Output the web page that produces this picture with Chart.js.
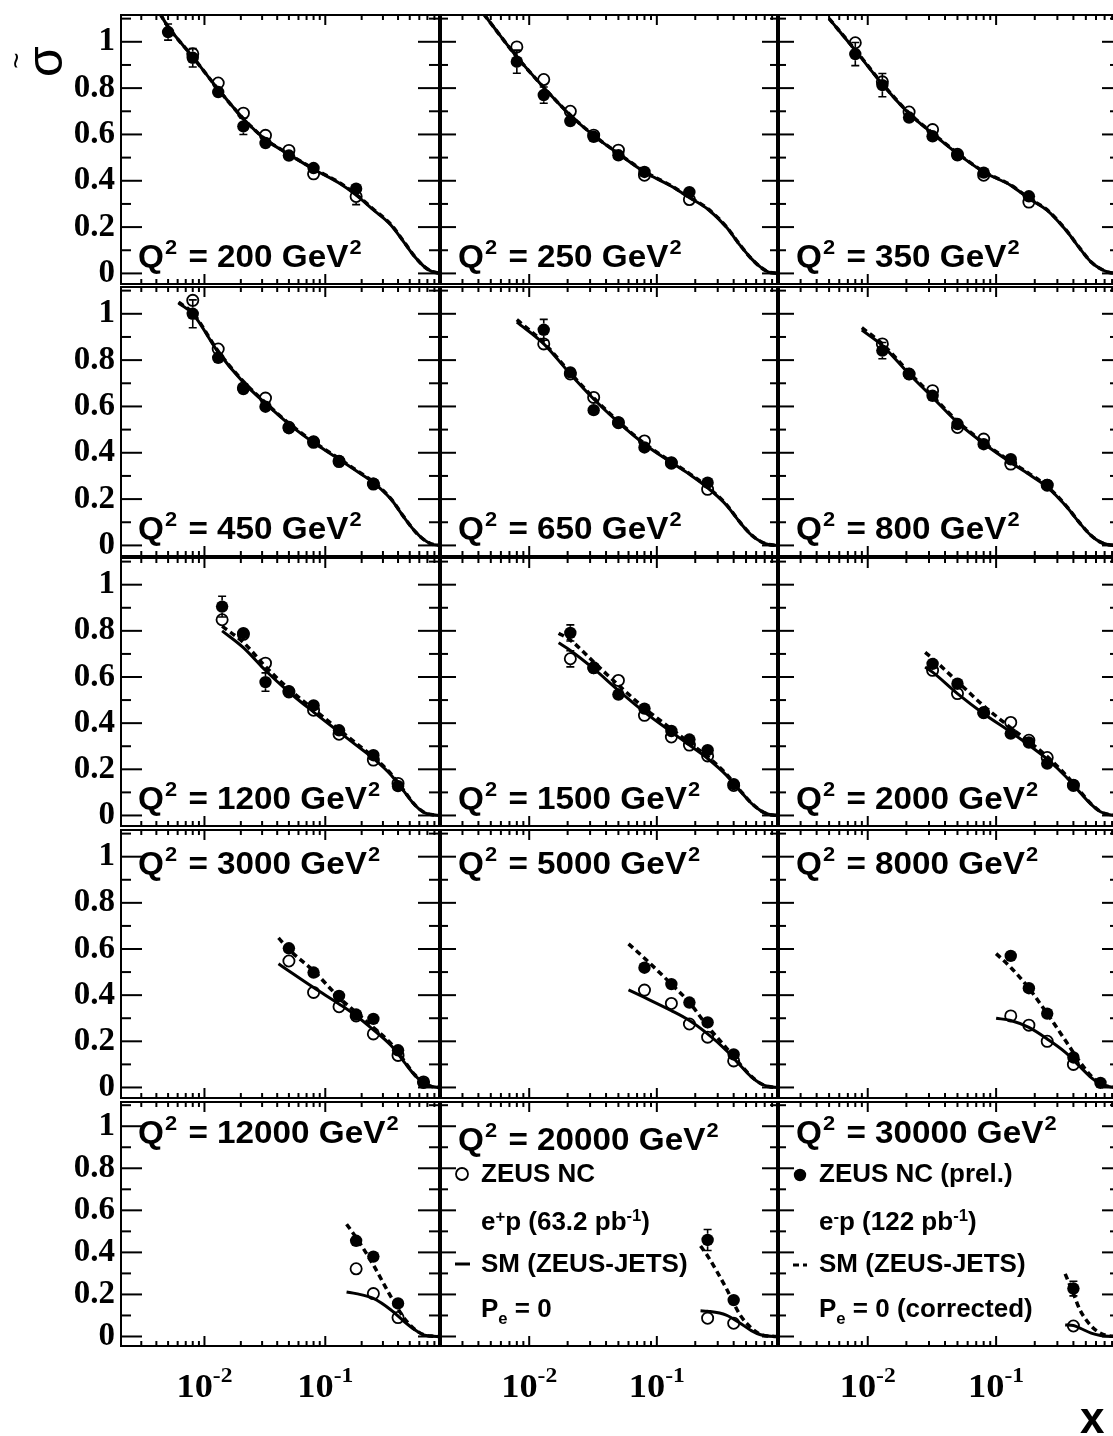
<!DOCTYPE html>
<html>
<head>
<meta charset="utf-8">
<title>ZEUS NC reduced cross sections</title>
<script src="https://cdn.jsdelivr.net/npm/chart.js@4.4.1/dist/chart.umd.min.js"></script>
<style>
  html, body { margin: 0; padding: 0; background: #fff; overflow: hidden; }
  #page { position: relative; width: 1113px; height: 1436px; overflow: hidden; background: #fff; }
  #page canvas { position: absolute; }
</style>
</head>
<body>
<div id="page"></div>
<script>
// ---------------------------------------------------------------------------
// Reduced cross sections vs x, one panel per Q^2 bin (GeV^2)
// ---------------------------------------------------------------------------
const q2Values = [200, 250, 350, 450, 650, 800, 1200, 1500, 2000, 3000, 5000, 8000, 12000, 20000, 30000];

// x of the measured points in every panel
const pointX = [
  [0.005, 0.008, 0.013, 0.021, 0.032, 0.05, 0.08, 0.18],
  [0.008, 0.013, 0.021, 0.032, 0.05, 0.08, 0.18],
  [0.008, 0.013, 0.021, 0.032, 0.05, 0.08, 0.18],
  [0.008, 0.013, 0.021, 0.032, 0.05, 0.08, 0.13, 0.25],
  [0.013, 0.021, 0.032, 0.05, 0.08, 0.13, 0.25],
  [0.013, 0.021, 0.032, 0.05, 0.08, 0.13, 0.25],
  [0.014, 0.021, 0.032, 0.05, 0.08, 0.13, 0.25, 0.4],
  [0.021, 0.032, 0.05, 0.08, 0.13, 0.18, 0.25, 0.4],
  [0.032, 0.05, 0.08, 0.13, 0.18, 0.25, 0.4],
  [0.05, 0.08, 0.13, 0.18, 0.25, 0.4, 0.65],
  [0.08, 0.13, 0.18, 0.25, 0.4],
  [0.13, 0.18, 0.25, 0.4, 0.65],
  [0.18, 0.25, 0.4],
  [0.25, 0.4],
  [0.4]
];

// e+p measurement (open circles)
const sigmaEplus = [
  [null, 0.948, 0.822, 0.692, 0.596, 0.531, 0.430, 0.332],
  [0.978, 0.837, 0.700, 0.597, 0.532, 0.424, 0.319],
  [0.996, 0.827, 0.697, 0.621, 0.514, 0.424, 0.308],
  [1.058, 0.848, 0.680, 0.636, 0.510, 0.445, 0.362, 0.265],
  [0.870, 0.740, 0.639, 0.530, 0.451, 0.355, 0.242],
  [0.870, 0.740, 0.668, 0.509, 0.459, 0.351, 0.260],
  [0.848, 0.785, 0.660, 0.535, 0.456, 0.352, 0.240, 0.139],
  [0.679, 0.640, 0.585, 0.434, 0.340, 0.305, 0.258, 0.130],
  [0.629, 0.528, 0.445, 0.403, 0.326, 0.251, 0.130],
  [0.548, 0.412, 0.350, 0.310, 0.232, 0.139, 0.024],
  [0.422, 0.364, 0.275, 0.218, 0.115],
  [0.310, 0.270, 0.200, 0.100, null],
  [0.322, 0.204, 0.090],
  [0.087, 0.063],
  [0.050]
];
const errEplus = [
  [null, 0.02, 0.015, 0.015, 0.015, 0.012, 0.012, 0.035],
  [0.02, 0.018, 0.015, 0.012, 0.012, 0.012, 0.02],
  [0.02, 0.02, 0.015, 0.015, 0.012, 0.012, 0.02],
  [0.025, 0.02, 0.015, 0.015, 0.012, 0.012, 0.012, 0.015],
  [0.025, 0.02, 0.02, 0.015, 0.015, 0.012, 0.015],
  [0.025, 0.02, 0.02, 0.015, 0.015, 0.012, 0.015],
  [0.03, 0.02, 0.02, 0.015, 0.015, 0.012, 0.015, 0.012],
  [0.035, 0.02, 0.02, 0.015, 0.015, 0.015, 0.015, 0.012],
  [0.02, 0.02, 0.015, 0.015, 0.015, 0.015, 0.012],
  [0.02, 0.018, 0.015, 0.015, 0.015, 0.012, 0.006],
  [0.02, 0.02, 0.018, 0.015, 0.012],
  [0.025, 0.02, 0.02, 0.015, null],
  [0.035, 0.03, 0.02],
  [0.02, 0.015],
  [0.015]
];

// e-p measurement (filled circles)
const sigmaEminus = [
  [1.042, 0.931, 0.783, 0.635, 0.563, 0.509, 0.455, 0.366],
  [0.914, 0.770, 0.658, 0.590, 0.510, 0.438, 0.351],
  [0.947, 0.813, 0.673, 0.592, 0.510, 0.435, 0.333],
  [1.000, 0.810, 0.675, 0.599, 0.506, 0.449, 0.365, 0.267],
  [0.931, 0.747, 0.584, 0.531, 0.423, 0.358, 0.271],
  [0.841, 0.740, 0.646, 0.524, 0.437, 0.372, 0.261],
  [0.905, 0.790, 0.578, 0.539, 0.477, 0.369, 0.261, 0.127],
  [0.791, 0.639, 0.524, 0.463, 0.366, 0.329, 0.283, 0.136],
  [0.657, 0.571, 0.446, 0.355, 0.316, 0.225, 0.132],
  [0.603, 0.498, 0.397, 0.316, 0.297, 0.161, 0.020],
  [0.519, 0.448, 0.368, 0.282, 0.143],
  [0.570, 0.430, 0.320, 0.130, 0.020],
  [0.455, 0.380, 0.157],
  [0.459, 0.173],
  [0.228]
];
const errEminus = [
  [0.035, 0.04, 0.03, 0.035, 0.03, 0.02, 0.02, 0.025],
  [0.05, 0.035, 0.025, 0.02, 0.02, 0.02, 0.025],
  [0.05, 0.05, 0.03, 0.025, 0.02, 0.02, 0.02],
  [0.06, 0.03, 0.03, 0.025, 0.02, 0.02, 0.02, 0.02],
  [0.045, 0.03, 0.03, 0.02, 0.02, 0.02, 0.02],
  [0.035, 0.03, 0.025, 0.02, 0.02, 0.02, 0.02],
  [0.045, 0.025, 0.04, 0.02, 0.02, 0.015, 0.015, 0.015],
  [0.035, 0.02, 0.02, 0.02, 0.02, 0.02, 0.02, 0.015],
  [0.025, 0.025, 0.02, 0.02, 0.02, 0.02, 0.015],
  [0.02, 0.02, 0.02, 0.02, 0.02, 0.015, 0.008],
  [0.025, 0.02, 0.02, 0.02, 0.015],
  [0.025, 0.025, 0.02, 0.02, 0.01],
  [0.025, 0.03, 0.025],
  [0.05, 0.025],
  [0.035]
];

// Standard Model expectation (ZEUS-JETS), sampled along x
const smX = [
  [0.0043, 0.005, 0.008, 0.013, 0.021, 0.032, 0.05, 0.08, 0.13, 0.18, 0.25, 0.35, 0.45, 0.55, 0.65, 0.75, 0.89],
  [0.0044, 0.005, 0.008, 0.013, 0.021, 0.032, 0.05, 0.08, 0.13, 0.18, 0.25, 0.35, 0.45, 0.55, 0.65, 0.75, 0.89],
  [0.005, 0.008, 0.013, 0.021, 0.032, 0.05, 0.08, 0.13, 0.18, 0.25, 0.35, 0.45, 0.55, 0.65, 0.75, 0.89],
  [0.0061, 0.008, 0.013, 0.021, 0.032, 0.05, 0.08, 0.13, 0.18, 0.25, 0.35, 0.45, 0.55, 0.65, 0.75, 0.89],
  [0.008, 0.013, 0.021, 0.032, 0.05, 0.08, 0.13, 0.18, 0.25, 0.35, 0.45, 0.55, 0.65, 0.75, 0.89],
  [0.009, 0.013, 0.021, 0.032, 0.05, 0.08, 0.13, 0.18, 0.25, 0.35, 0.45, 0.55, 0.65, 0.75, 0.89],
  [0.014, 0.021, 0.032, 0.05, 0.08, 0.13, 0.18, 0.25, 0.35, 0.45, 0.55, 0.65, 0.75, 0.89],
  [0.017, 0.021, 0.032, 0.05, 0.08, 0.13, 0.18, 0.25, 0.35, 0.45, 0.55, 0.65, 0.75, 0.89],
  [0.028, 0.032, 0.05, 0.08, 0.13, 0.18, 0.25, 0.35, 0.45, 0.55, 0.65, 0.75, 0.89],
  [0.041, 0.05, 0.08, 0.13, 0.18, 0.25, 0.35, 0.45, 0.55, 0.65, 0.75, 0.89],
  [0.06, 0.08, 0.13, 0.18, 0.25, 0.35, 0.45, 0.55, 0.65, 0.75, 0.89],
  [0.10, 0.13, 0.18, 0.25, 0.35, 0.45, 0.55, 0.65, 0.75, 0.89],
  [0.15, 0.18, 0.25, 0.35, 0.45, 0.55, 0.65, 0.75, 0.89],
  [0.22, 0.25, 0.35, 0.45, 0.55, 0.65, 0.75, 0.89],
  [0.345, 0.4, 0.45, 0.55, 0.65, 0.75, 0.89]
];
const smEplus = [
  [1.12, 1.065, 0.935, 0.795, 0.668, 0.578, 0.514, 0.450, 0.390, 0.338, 0.274, 0.208, 0.133, 0.072, 0.032, 0.010, 0.0],
  [1.12, 1.080, 0.935, 0.803, 0.683, 0.595, 0.517, 0.438, 0.376, 0.327, 0.278, 0.200, 0.121, 0.064, 0.027, 0.006, 0.0],
  [1.10, 0.963, 0.817, 0.690, 0.604, 0.517, 0.438, 0.380, 0.323, 0.272, 0.186, 0.107, 0.049, 0.020, 0.005, 0.0],
  [1.046, 1.000, 0.834, 0.704, 0.613, 0.524, 0.444, 0.372, 0.322, 0.271, 0.199, 0.120, 0.062, 0.026, 0.007, 0.0],
  [0.964, 0.870, 0.740, 0.632, 0.531, 0.437, 0.358, 0.307, 0.249, 0.175, 0.098, 0.045, 0.017, 0.004, 0.0],
  [0.930, 0.863, 0.740, 0.639, 0.531, 0.440, 0.358, 0.307, 0.252, 0.170, 0.095, 0.042, 0.014, 0.003, 0.0],
  [0.800, 0.727, 0.628, 0.535, 0.448, 0.362, 0.305, 0.247, 0.175, 0.103, 0.045, 0.014, 0.004, 0.0],
  [0.748, 0.715, 0.636, 0.542, 0.448, 0.362, 0.305, 0.247, 0.175, 0.106, 0.053, 0.021, 0.005, 0.0],
  [0.643, 0.621, 0.528, 0.441, 0.362, 0.305, 0.244, 0.168, 0.100, 0.048, 0.016, 0.004, 0.0],
  [0.536, 0.505, 0.433, 0.362, 0.311, 0.250, 0.182, 0.110, 0.053, 0.020, 0.005, 0.0],
  [0.423, 0.390, 0.333, 0.290, 0.232, 0.161, 0.096, 0.046, 0.017, 0.004, 0.0],
  [0.300, 0.290, 0.260, 0.210, 0.150, 0.090, 0.043, 0.015, 0.004, 0.0],
  [0.212, 0.204, 0.181, 0.126, 0.071, 0.032, 0.008, 0.002, 0.0],
  [0.122, 0.120, 0.102, 0.063, 0.028, 0.008, 0.002, 0.0],
  [0.055, 0.052, 0.040, 0.016, 0.005, 0.001, 0.0]
];
const smEminus = [
  [1.12, 1.065, 0.935, 0.795, 0.668, 0.579, 0.515, 0.452, 0.393, 0.341, 0.277, 0.211, 0.135, 0.073, 0.032, 0.010, 0.0],
  [1.12, 1.080, 0.935, 0.803, 0.684, 0.596, 0.518, 0.440, 0.378, 0.329, 0.280, 0.202, 0.122, 0.064, 0.027, 0.006, 0.0],
  [1.10, 0.965, 0.819, 0.692, 0.606, 0.519, 0.440, 0.382, 0.325, 0.274, 0.188, 0.108, 0.049, 0.020, 0.005, 0.0],
  [1.050, 1.004, 0.838, 0.708, 0.616, 0.527, 0.447, 0.375, 0.325, 0.274, 0.201, 0.121, 0.062, 0.026, 0.007, 0.0],
  [0.975, 0.875, 0.745, 0.637, 0.535, 0.440, 0.361, 0.310, 0.252, 0.177, 0.099, 0.046, 0.017, 0.004, 0.0],
  [0.940, 0.870, 0.747, 0.645, 0.536, 0.444, 0.362, 0.311, 0.255, 0.172, 0.096, 0.043, 0.014, 0.003, 0.0],
  [0.820, 0.750, 0.645, 0.548, 0.460, 0.372, 0.313, 0.253, 0.180, 0.106, 0.047, 0.015, 0.004, 0.0],
  [0.790, 0.760, 0.665, 0.565, 0.465, 0.375, 0.315, 0.255, 0.180, 0.108, 0.054, 0.021, 0.005, 0.0],
  [0.707, 0.680, 0.580, 0.475, 0.380, 0.320, 0.255, 0.175, 0.105, 0.050, 0.017, 0.004, 0.0],
  [0.648, 0.598, 0.505, 0.390, 0.325, 0.260, 0.190, 0.115, 0.055, 0.020, 0.005, 0.0],
  [0.622, 0.560, 0.448, 0.368, 0.265, 0.172, 0.100, 0.048, 0.017, 0.004, 0.0],
  [0.580, 0.520, 0.430, 0.320, 0.200, 0.110, 0.050, 0.017, 0.004, 0.0],
  [0.534, 0.471, 0.340, 0.188, 0.087, 0.034, 0.009, 0.002, 0.0],
  [0.430, 0.383, 0.229, 0.102, 0.040, 0.010, 0.002, 0.0],
  [0.298, 0.204, 0.126, 0.050, 0.015, 0.003, 0.0]
];

// axis ticks
const xMajorTicks = [0.01, 0.1];
const xTickExponents = ['-2', '-1'];
const xMinorTicks = [0.003, 0.004, 0.005, 0.006, 0.007, 0.008, 0.009,
                     0.02, 0.03, 0.04, 0.05, 0.06, 0.07, 0.08, 0.09,
                     0.2, 0.3, 0.4, 0.5, 0.6, 0.7, 0.8];
const yMajorTicks = [0, 0.2, 0.4, 0.6, 0.8, 1];
const yTickLabels = ['0', '0.2', '0.4', '0.6', '0.8', '1'];
const yMinorTicks = [0.1, 0.3, 0.5, 0.7, 0.9, 1.1];

// ---------------------------------------------------------------------------
// page layout: frame edges of the 3 x 5 grid
// ---------------------------------------------------------------------------
const COL_EDGES = [[120, 440], [440, 778], [778, 1118]];
const ROW_EDGES = [[14, 285], [286, 557], [557, 827], [829, 1099], [1101, 1347]];
const PAGE_H = 1436;
const SANS = "'Liberation Sans', Arial, Helvetica, sans-serif";
const SERIF = "'Liberation Serif', 'Times New Roman', serif";

// draw a run of text pieces (super/subscripts carry a vertical offset)
function drawRich(ctx, x, y, parts, stretch, align) {
  ctx.save();
  let total = 0;
  for (const p of parts) { ctx.font = p.font; total += ctx.measureText(p.t).width + (p.gap || 0); }
  const x0 = align === 'center' ? x - total * stretch / 2 : x;
  ctx.translate(x0, y);
  ctx.scale(stretch, 1);
  ctx.textAlign = 'left';
  ctx.textBaseline = 'alphabetic';
  ctx.fillStyle = '#000';
  let cx = 0;
  for (const p of parts) {
    ctx.font = p.font;
    ctx.fillText(p.t, cx, p.dy || 0);
    cx += ctx.measureText(p.t).width + (p.gap || 0);
  }
  ctx.restore();
}

function seg(ctx, x1, y1, x2, y2) {
  ctx.beginPath(); ctx.moveTo(x1, y1); ctx.lineTo(x2, y2); ctx.stroke();
}

function drawErrorBars(ctx, xs, ys, xv, yv, ev, r) {
  xv.forEach((x, k) => {
    const v = yv[k], e = ev[k];
    if (v === null || e === null || e === undefined) return;
    const px = xs.getPixelForValue(x);
    const py = ys.getPixelForValue(v);
    const hi = ys.getPixelForValue(v + e);
    const lo = ys.getPixelForValue(v - e);
    if (py - hi <= r + 1) return;
    ctx.beginPath();
    ctx.moveTo(px, hi); ctx.lineTo(px, py - r);
    ctx.moveTo(px, py + r); ctx.lineTo(px, lo);
    ctx.moveTo(px - 4, hi); ctx.lineTo(px + 4, hi);
    ctx.moveTo(px - 4, lo); ctx.lineTo(px + 4, lo);
    ctx.stroke();
  });
}

function drawLegend(ctx, ca, positron) {
  const F = `bold 25px ${SANS}`, S = `bold 16px ${SANS}`;
  const tx = ca.left + 41, sx = ca.left + 22;
  const base = [81, 129, 171, 216].map(d => ca.top + d);
  const st = 1.04;
  ctx.save();
  ctx.strokeStyle = '#000'; ctx.fillStyle = '#000';
  if (positron) {
    ctx.lineWidth = 1.8;
    ctx.beginPath(); ctx.arc(sx, base[0] - 8, 6, 0, Math.PI * 2); ctx.stroke();
    drawRich(ctx, tx, base[0], [{ t: 'ZEUS NC', font: F }], st);
    drawRich(ctx, tx, base[1], [{ t: 'e', font: F }, { t: '+', font: S, dy: -8 },
      { t: 'p (63.2 pb', font: F }, { t: '-1', font: S, dy: -9 }, { t: ')', font: F }], st);
    ctx.lineWidth = 3;
    seg(ctx, sx - 7, base[2] - 8, sx + 8, base[2] - 8);
    drawRich(ctx, tx, base[2], [{ t: 'SM (ZEUS-JETS)', font: F }], st);
    drawRich(ctx, tx, base[3], [{ t: 'P', font: F }, { t: 'e', font: S, dy: 7 }, { t: ' = 0', font: F }], st);
  } else {
    ctx.beginPath(); ctx.arc(sx, base[0] - 7, 6.2, 0, Math.PI * 2); ctx.fill();
    drawRich(ctx, tx, base[0], [{ t: 'ZEUS NC (prel.)', font: F }], st);
    drawRich(ctx, tx, base[1], [{ t: 'e', font: F }, { t: '-', font: S, dy: -8 },
      { t: 'p (122 pb', font: F }, { t: '-1', font: S, dy: -9 }, { t: ')', font: F }], st);
    ctx.lineWidth = 3;
    seg(ctx, sx - 7, base[2] - 7, sx - 1, base[2] - 7);
    seg(ctx, sx + 3, base[2] - 7, sx + 7, base[2] - 7);
    drawRich(ctx, tx, base[2], [{ t: 'SM (ZEUS-JETS)', font: F }], st);
    drawRich(ctx, tx, base[3], [{ t: 'P', font: F }, { t: 'e', font: S, dy: 7 }, { t: ' = 0 (corrected)', font: F }], st);
  }
  ctx.restore();
}

const panelDecor = {
  id: 'panelDecor',
  beforeDatasetsDraw(chart, args, o) {
    const { ctx, chartArea: ca } = chart;
    const xs = chart.scales.x, ys = chart.scales.y;
    const i = o.index;
    ctx.save();
    ctx.beginPath();
    ctx.rect(ca.left, ca.top, ca.right - ca.left, ca.bottom - ca.top);
    ctx.clip();
    ctx.strokeStyle = '#000';
    ctx.lineWidth = 1.6;
    drawErrorBars(ctx, xs, ys, pointX[i], sigmaEminus[i], errEminus[i], 6.2);
    drawErrorBars(ctx, xs, ys, pointX[i], sigmaEplus[i], errEplus[i], 6.5);
    ctx.restore();
  },
  afterDatasetsDraw(chart, args, o) {
    const { ctx, chartArea: ca } = chart;
    const xs = chart.scales.x, ys = chart.scales.y;
    const i = o.index;
    ctx.save();
    ctx.strokeStyle = '#000';
    ctx.fillStyle = '#000';
    ctx.lineWidth = 2;
    ctx.strokeRect(ca.left + 1, ca.top + 1, ca.right - ca.left - 2, ca.bottom - ca.top - 2);

    // inward ticks on all four sides
    const yMaj = o.col === 0 ? 22 : 16, yMin = yMaj / 2;
    yMajorTicks.forEach(v => {
      const p = ys.getPixelForValue(v);
      seg(ctx, ca.left, p, ca.left + yMaj, p);
      seg(ctx, ca.right - yMaj, p, ca.right, p);
    });
    yMinorTicks.forEach(v => {
      const p = ys.getPixelForValue(v);
      seg(ctx, ca.left, p, ca.left + yMin, p);
      seg(ctx, ca.right - yMin, p, ca.right, p);
    });
    xMajorTicks.forEach(v => {
      const p = xs.getPixelForValue(v);
      seg(ctx, p, ca.bottom, p, ca.bottom - 11);
      seg(ctx, p, ca.top, p, ca.top + 11);
    });
    xMinorTicks.forEach(v => {
      const p = xs.getPixelForValue(v);
      seg(ctx, p, ca.bottom, p, ca.bottom - 6);
      seg(ctx, p, ca.top, p, ca.top + 6);
    });

    // Q^2 bin label
    const B = `bold 32px ${SANS}`, Bs = `bold 21px ${SANS}`;
    const labelY = o.row < 3 ? ca.bottom - 18 : ca.top + (o.row === 3 ? 45 : (o.col === 1 ? 49 : 42));
    drawRich(ctx, ca.left + 18, labelY, [
      { t: 'Q', font: B, gap: 1 }, { t: '2', font: Bs, dy: -13, gap: 2 },
      { t: ' = ' + q2Values[i] + ' GeV', font: B, gap: 1 }, { t: '2', font: Bs, dy: -13 }
    ], 1.04);

    if (i === 13) drawLegend(ctx, ca, true);
    if (i === 14) drawLegend(ctx, ca, false);

    // x tick labels under the bottom row
    if (o.row === 4) {
      xMajorTicks.forEach((v, k) => {
        const p = xs.getPixelForValue(v);
        drawRich(ctx, p, ca.bottom + 50, [
          { t: '10', font: `bold 34px ${SERIF}` },
          { t: xTickExponents[k], font: `bold 22px ${SERIF}`, dy: -15 }
        ], 1.07, 'center');
      });
    }

    // axis titles
    if (i === 0) {
      const ox = 62 - o.canvasLeft, oy = 77 - o.canvasTop;
      ctx.save();
      ctx.translate(ox, oy);
      ctx.rotate(-Math.PI / 2);
      ctx.textBaseline = 'alphabetic';
      ctx.textAlign = 'left';
      ctx.font = `50px ${SANS}`;
      ctx.fillText('\u03C3', 0, 0);
      ctx.textAlign = 'center';
      ctx.textBaseline = 'middle';
      ctx.font = `28px ${SANS}`;
      ctx.fillText('~', 16.5, -43.5);
      ctx.restore();
    }
    if (i === 14) {
      ctx.font = `bold 44px ${SANS}`;
      ctx.textAlign = 'left';
      ctx.textBaseline = 'alphabetic';
      ctx.fillText('x', 1080 - o.canvasLeft, 1433 - o.canvasTop);
    }
    ctx.restore();
  }
};

const toPoints = (xs, ys) => xs.map((x, k) => ({ x, y: ys[k] })).filter(p => p.y !== null);

const page = document.getElementById('page');
q2Values.forEach((q2, i) => {
  const r = Math.floor(i / 3), c = i % 3;
  const [fl, fr] = COL_EDGES[c];
  const [ft, fb] = ROW_EDGES[r];
  const yAxisW = c === 0 ? 120 : 0;
  const padTop = c === 0 ? 40 : 0;
  const padBottom = r === 4 ? PAGE_H - fb : (c === 0 ? 40 : 0);
  const canvasLeft = fl - yAxisW;
  const canvasTop = ft - padTop;
  const cw = fr - canvasLeft;
  const ch = fb + padBottom - canvasTop;

  const canvas = document.createElement('canvas');
  canvas.width = cw; canvas.height = ch;
  canvas.style.left = canvasLeft + 'px';
  canvas.style.top = canvasTop + 'px';
  canvas.style.width = cw + 'px';
  canvas.style.height = ch + 'px';
  page.appendChild(canvas);

  const yScale = {
    type: 'linear', min: -0.05, max: 1.12, position: 'left', display: c === 0,
    grid: { display: false, drawTicks: false }, border: { display: false },
    ticks: {
      autoSkip: false, padding: 5, color: '#000',
      font: { family: SERIF, weight: 'bold', size: 33 },
      callback: (v, k) => yTickLabels[k]
    },
    afterBuildTicks: s => { s.ticks = yMajorTicks.map(v => ({ value: v })); }
  };
  if (c === 0) yScale.afterFit = s => { s.width = yAxisW; };

  new Chart(canvas, {
    type: 'line',
    data: {
      datasets: [
        { label: 'ZEUS NC e+p', data: toPoints(pointX[i], sigmaEplus[i]), showLine: false,
          pointStyle: 'circle', pointRadius: 5.6, pointBorderWidth: 1.8, pointBorderColor: '#000',
          pointBackgroundColor: 'rgba(0,0,0,0)', order: 0 },
        { label: 'ZEUS NC e-p', data: toPoints(pointX[i], sigmaEminus[i]), showLine: false,
          pointStyle: 'circle', pointRadius: 6.2, pointBorderWidth: 0, pointBorderColor: '#000',
          pointBackgroundColor: '#000', order: 1 },
        { label: 'SM e-p', data: toPoints(smX[i], smEminus[i]), borderColor: '#000', borderWidth: 3.5,
          borderDash: [6, 4], pointRadius: 0, fill: false, cubicInterpolationMode: 'monotone', order: 2 },
        { label: 'SM e+p', data: toPoints(smX[i], smEplus[i]), borderColor: '#000', borderWidth: 3,
          pointRadius: 0, fill: false, cubicInterpolationMode: 'monotone', order: 3 }
      ]
    },
    options: {
      responsive: false, animation: false, devicePixelRatio: 1, events: [],
      layout: { autoPadding: false, padding: { left: 0, right: 0, top: padTop, bottom: padBottom } },
      scales: {
        x: { type: 'logarithmic', min: 0.002, max: 0.89, display: false },
        y: yScale
      },
      plugins: {
        legend: { display: false }, tooltip: { enabled: false },
        panelDecor: { index: i, row: r, col: c, canvasLeft, canvasTop }
      }
    },
    plugins: [panelDecor]
  });
});
</script>
</body>
</html>
